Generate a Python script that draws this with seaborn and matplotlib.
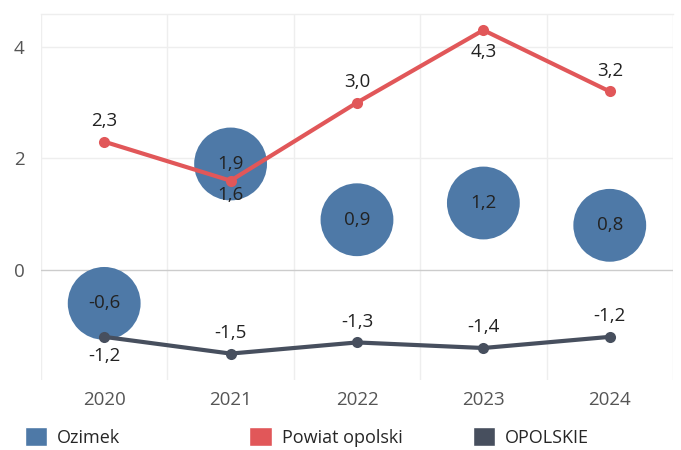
import numpy as np
import pandas as pd
import matplotlib
matplotlib.use('Agg')
import matplotlib.pyplot as plt
import seaborn as sns
from matplotlib.patches import Patch

# Data
years = ['2020', '2021', '2022', '2023', '2024']
ozimek = [-0.6, 1.9, 0.9, 1.2, 0.8]
powiat = [2.3, 1.6, 3.0, 4.3, 3.2]
opolskie = [-1.2, -1.5, -1.3, -1.4, -1.2]
series_names = ['Ozimek', 'Powiat opolski', 'OPOLSKIE']

c_blue = '#4e79a7'
c_red = '#e15759'
c_dark = '#474f5e'

sns.set_theme(style='white')
plt.rcParams['font.family'] = ['Open Sans', 'DejaVu Sans']

df = pd.DataFrame({'x': np.arange(len(years)), 'Ozimek': ozimek,
                   'Powiat opolski': powiat, 'OPOLSKIE': opolskie})

fig = plt.figure(figsize=(6.81, 4.5), dpi=100)
ax = fig.add_axes([0.0602, 0.156, 0.928, 0.813])

# bubbles
sns.scatterplot(data=df, x='x', y='Ozimek', s=2750, color=c_blue, edgecolor='none',
                ax=ax, zorder=2, legend=False)
# lines
sns.lineplot(data=df, x='x', y='Powiat opolski', color=c_red, linewidth=3,
             marker='o', markersize=8, markeredgewidth=0, ax=ax, zorder=3)
sns.lineplot(data=df, x='x', y='OPOLSKIE', color=c_dark, linewidth=3,
             marker='o', markersize=8, markeredgewidth=0, ax=ax, zorder=3)

fmt = lambda v: f'{v:.1f}'.replace('.', ',')
lab_kw = dict(textcoords='offset points', ha='center', va='center',
              fontsize=13.5, color='#222222', zorder=5)

for i, v in enumerate(ozimek):
    ax.annotate(fmt(v), (i, v), xytext=(0, 0), **lab_kw)

# label offsets in points (+ above, - below)
red_off = [15, -10, 15, -16, 15]
for i, v in enumerate(powiat):
    ax.annotate(fmt(v), (i, v), xytext=(0, red_off[i]), **lab_kw)

dark_off = [-14, 15, 15, 15, 15]
for i, v in enumerate(opolskie):
    ax.annotate(fmt(v), (i, v), xytext=(0, dark_off[i]), **lab_kw)

ax.set_xlim(-0.5, 4.5)
ax.set_ylim(-1.97, 4.59)
ax.set_xticks(np.arange(len(years)))
ax.set_xticklabels(years)
ax.set_xticks(np.arange(-0.5, 5, 1), minor=True)
ax.set_yticks([0, 2, 4])
ax.set_yticklabels(['0', '2', '4'])
ax.set_xlabel('')
ax.set_ylabel('')
ax.tick_params(axis='both', which='both', length=0, labelsize=13.5, labelcolor='#555555')
ax.tick_params(axis='x', pad=8)
ax.tick_params(axis='y', pad=12)

ax.grid(False)
ax.grid(axis='x', which='minor', color='#eeeeee', linewidth=1, zorder=0)
for yv in [2, 4]:
    ax.axhline(yv, color='#eeeeee', linewidth=1, zorder=0)
ax.axhline(0, color='#cccccc', linewidth=1, zorder=1)

for side in ['left', 'bottom', 'right']:
    ax.spines[side].set_visible(False)
ax.spines['top'].set_color('#eeeeee')
ax.spines['top'].set_linewidth(1)

colors = [c_blue, c_red, c_dark]
leg_x = [0.036, 0.366, 0.694]
for name, col, lx in zip(series_names, colors, leg_x):
    leg = fig.legend(handles=[Patch(facecolor=col, label=name)], loc='center left',
                     bbox_to_anchor=(lx, 0.029), frameon=False, fontsize=13,
                     handlelength=1.25, handleheight=1.25, handletextpad=0.55,
                     borderpad=0, borderaxespad=0)

fig.savefig('out.png', dpi=100)
